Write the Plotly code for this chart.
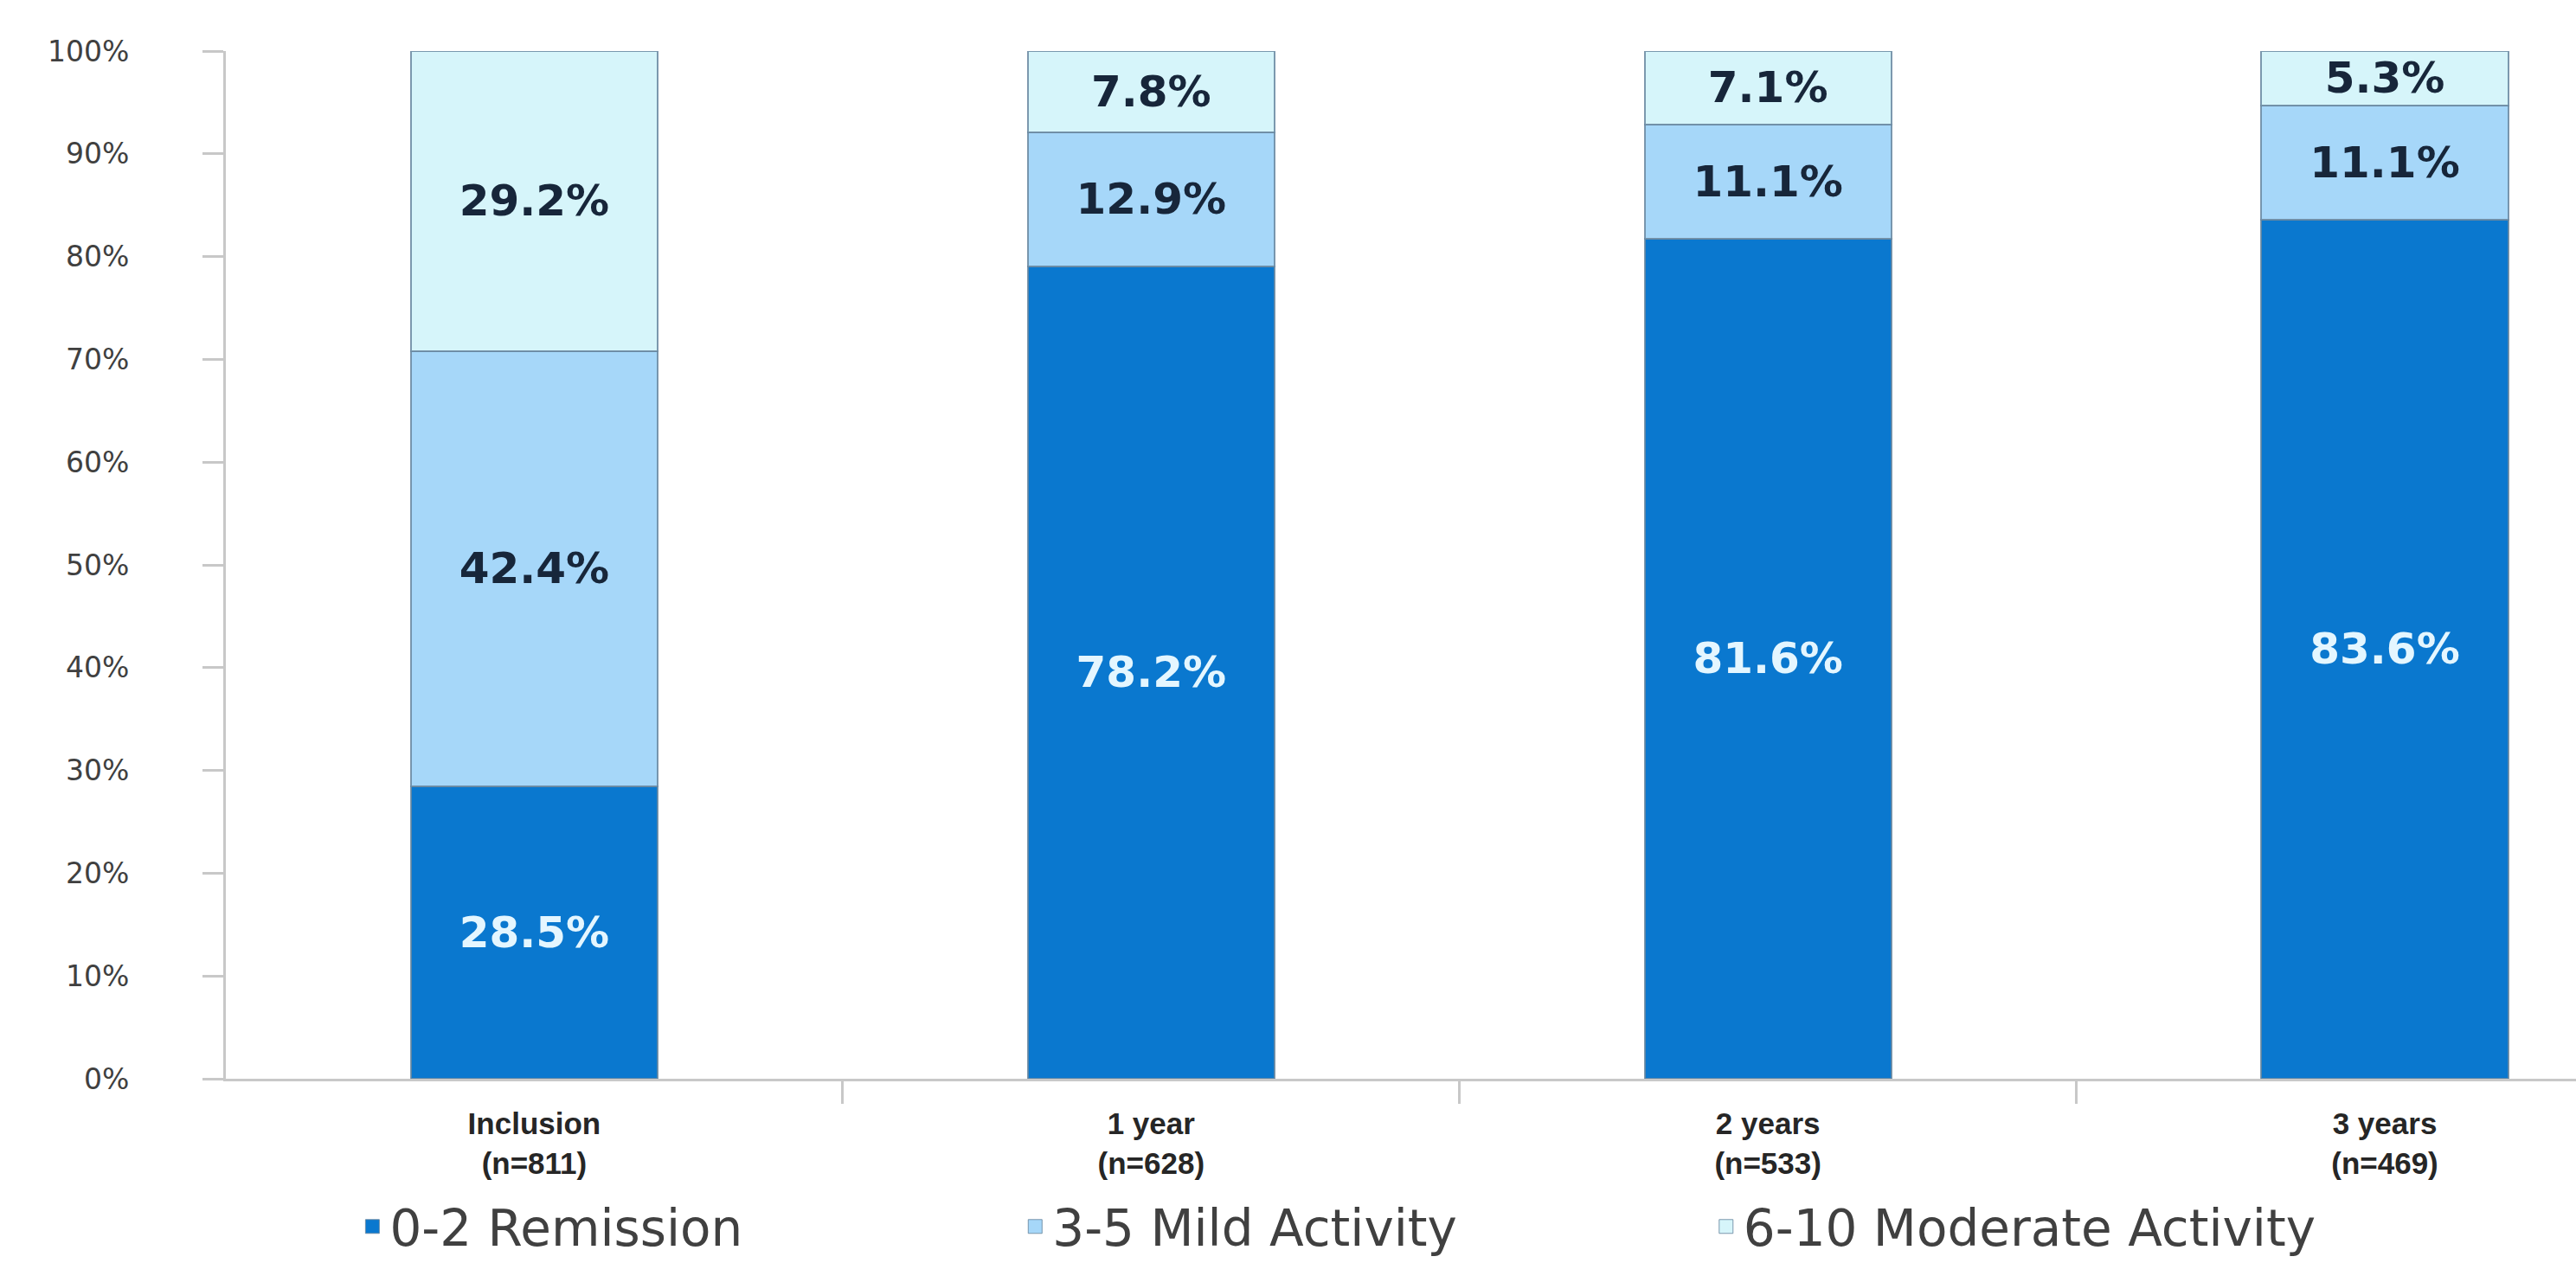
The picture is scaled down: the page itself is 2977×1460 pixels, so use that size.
import plotly.graph_objects as go

# Disease activity categories per follow-up visit (percent of patients)
categories = ["Inclusion<br>(n=811)", "1 year<br>(n=628)", "2 years<br>(n=533)", "3 years<br>(n=469)"]
remission = [28.5, 78.2, 81.6, 83.6]
mild = [42.4, 12.9, 11.1, 11.1]
moderate = [29.2, 7.8, 7.1, 5.3]
series_names = ["0-2 Remission", "3-5 Mild Activity", "6-10 Moderate Activity"]
y_ticks = list(range(0, 101, 10))

positions = list(range(len(categories)))
boundaries = [p + 0.5 for p in positions[:-1]]

fill_colors = ["#0A78CF", "#A6D7F9", "#D6F5FA"]
label_colors = ["#E4F6FF", "#17263A", "#17263A"]
legend_ids = ["legend", "legend2", "legend3"]
legend_x = [0.055, 0.337, 0.631]

fig = go.Figure()

for name, values, color, tcolor in zip(series_names, [remission, mild, moderate], fill_colors, label_colors):
    fig.add_trace(go.Bar(
        x=positions,
        y=values,
        name=name,
        text=[f"{v:.1f}%" for v in values],
        textposition="inside",
        insidetextanchor="middle",
        constraintext="none",
        textfont=dict(family="DejaVu Sans", size=50, color=tcolor, weight="bold"),
        marker=dict(color=color, line=dict(color="rgba(105,135,160,0.85)", width=2)),
        showlegend=False,
    ))

# Legend entries with square swatches, each legend placed on its own
for name, color, lid in zip(series_names, fill_colors, legend_ids):
    fig.add_trace(go.Scatter(
        x=[None], y=[None], mode="markers", name=name, legend=lid,
        marker=dict(symbol="square", size=22, color=color,
                    line=dict(color="rgba(105,135,160,0.85)", width=1)),
    ))

legend_font = dict(family="DejaVu Sans", size=58, color="#404040")
legend_common = dict(y=-0.144, yanchor="middle", xanchor="left", orientation="h",
                     font=legend_font, bgcolor="rgba(0,0,0,0)", itemsizing="trace",
                     borderwidth=0)

fig.update_layout(
    width=2977,
    height=1460,
    margin=dict(l=261, r=0, t=59, b=213, autoexpand=False),
    paper_bgcolor="white",
    plot_bgcolor="white",
    barmode="stack",
    barnorm="percent",
    bargap=0.6,
    legend=dict(x=legend_x[0], **legend_common),
    legend2=dict(x=legend_x[1], **legend_common),
    legend3=dict(x=legend_x[2], **legend_common),
    xaxis=dict(
        range=[-0.5, 3.31],
        tickvals=positions,
        ticktext=categories,
        ticks="",
        showline=True,
        linecolor="#C8C8C8",
        linewidth=3,
        showgrid=False,
        zeroline=False,
        ticklabelstandoff=19,
        tickfont=dict(family="Liberation Sans, Arial, sans-serif",
                      size=35, color="#262626", weight="bold"),
        minor=dict(tickvals=boundaries, ticks="outside", ticklen=26,
                   tickcolor="#C8C8C8", tickwidth=3),
    ),
    yaxis=dict(
        range=[0, 100],
        tickvals=y_ticks,
        ticktext=[f"{v}%" for v in y_ticks],
        showgrid=False,
        zeroline=False,
        showline=True,
        linecolor="#C8C8C8",
        linewidth=3,
        ticks="outside",
        ticklen=24,
        tickwidth=3,
        tickcolor="#C8C8C8",
        ticklabelstandoff=78,
        tickfont=dict(family="DejaVu Sans", size=33, color="#404040"),
    ),
)

fig.write_html("out.html")
